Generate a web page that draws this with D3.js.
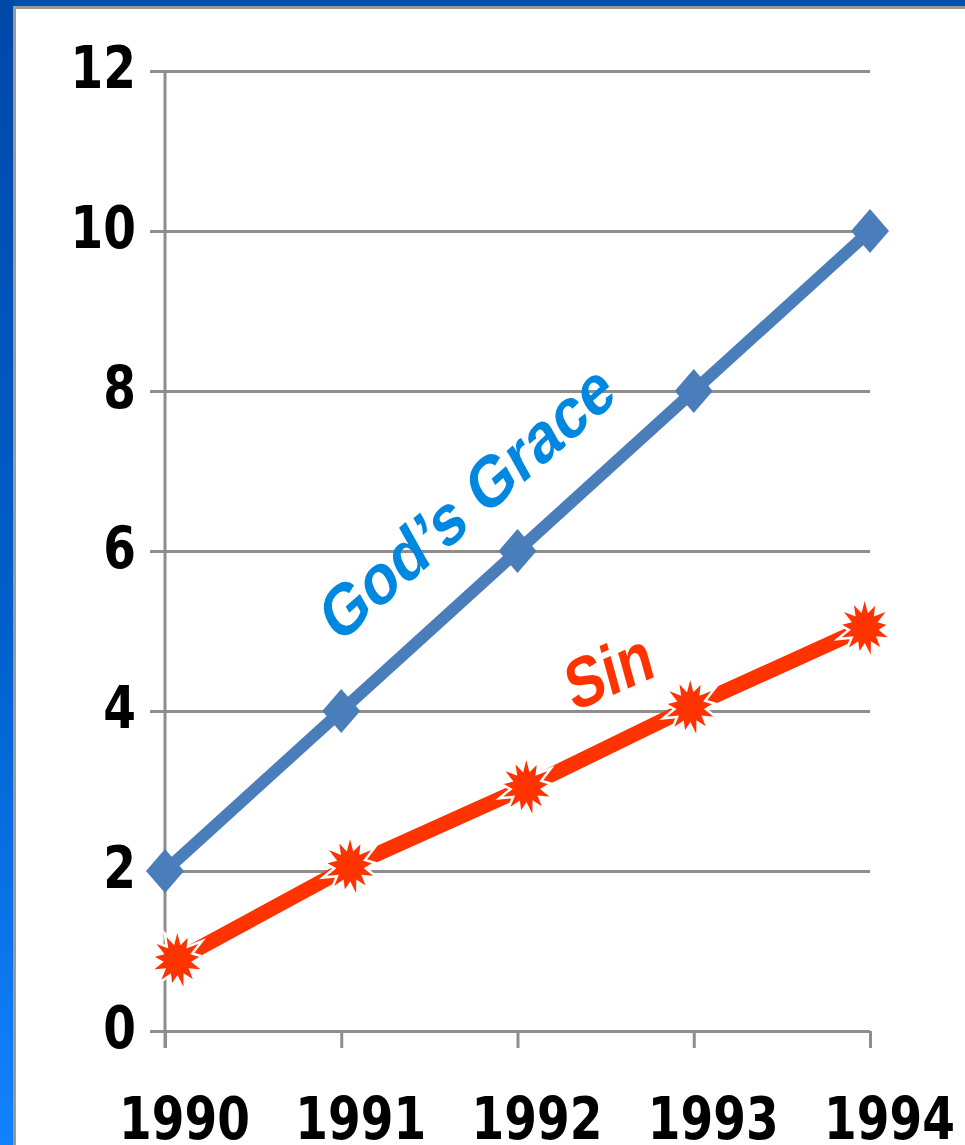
<!DOCTYPE html>
<html>
<head>
<meta charset="utf-8">
<script src="https://cdn.jsdelivr.net/npm/d3@7"></script>
<style>
  html, body { margin: 0; padding: 0; background: #fff; }
  svg { display: block; }
</style>
</head>
<body>
<svg id="chart" width="965" height="1145"></svg>
<script>
'use strict';

// data
var years = [1990, 1991, 1992, 1993, 1994];
var yTicks = [0, 2, 4, 6, 8, 10, 12];
var graceValues = [2, 4, 6, 8, 10];
var sinYears = [1990.07, 1991.05, 1992.05, 1992.98, 1993.97];
var sinValues = [0.89, 2.06, 3.05, 4.05, 5.04];

var svg = d3.select('#chart');
var W = 965, H = 1145;
var stretch = 1.25; // the source picture is squashed taller than wide

// slide background: blue strips on top and left
var defs = svg.append('defs');
var grad = defs.append('linearGradient')
    .attr('id', 'sideGrad')
    .attr('x1', 0).attr('y1', 0).attr('x2', 0).attr('y2', 1);
grad.append('stop').attr('offset', '0%').attr('stop-color', '#0048a8');
grad.append('stop').attr('offset', '55%').attr('stop-color', '#0060cc');
grad.append('stop').attr('offset', '100%').attr('stop-color', '#1482ff');

svg.append('rect').attr('x', 0).attr('y', 0).attr('width', W).attr('height', 6).attr('fill', '#0050b0');
svg.append('rect').attr('x', 0).attr('y', 0).attr('width', 14).attr('height', H).attr('fill', 'url(#sideGrad)');
svg.append('rect').attr('x', 14).attr('y', 6).attr('width', W).attr('height', 3).attr('fill', '#9a9a9a');
svg.append('rect').attr('x', 13).attr('y', 6).attr('width', 3).attr('height', H).attr('fill', '#9a9a9a');
// leftover letter from the slide behind
svg.append('text')
    .attr('x', -22).attr('y', 1020)
    .attr('font-family', 'DejaVu Sans')
    .attr('font-weight', 'bold')
    .attr('font-size', 34)
    .attr('fill', '#000')
    .text('s');

var x = d3.scaleLinear().domain([1990, 1994]).range([165, 870]);
var y = d3.scaleLinear().domain([0, 12]).range([1031, 71]);

var gridColor = '#8e8e8e';

// gridlines + y axis
var yAxis = d3.axisLeft(y)
    .tickValues(yTicks)
    .tickSize(15)
    .tickPadding(14)
    .tickFormat(d3.format('d'));

var gy = svg.append('g').attr('transform', 'translate(165,0)').call(yAxis);
gy.select('.domain').remove();
gy.selectAll('.tick line').attr('stroke', gridColor).attr('stroke-width', 3);
gy.selectAll('.tick').append('line')
    .attr('x1', 0).attr('x2', x(1994) - x(1990))
    .attr('stroke', gridColor).attr('stroke-width', 3);
gy.selectAll('.tick text')
    .attr('font-family', 'DejaVu Sans')
    .attr('font-weight', 'bold')
    .attr('font-size', 47)
    .attr('fill', '#000')
    .attr('dy', null)
    .attr('dominant-baseline', 'central')
    .attr('transform', 'translate(0,-3) scale(1,' + stretch + ')');

// vertical axis line
svg.append('line')
    .attr('x1', x(1990)).attr('x2', x(1990))
    .attr('y1', y(12)).attr('y2', y(0) + 17)
    .attr('stroke', gridColor).attr('stroke-width', 3);

// x axis ticks and labels
var xAxis = d3.axisBottom(x)
    .tickValues(years)
    .tickSize(17)
    .tickPadding(0)
    .tickFormat(d3.format('d'));
var gx = svg.append('g').attr('transform', 'translate(0,' + y(0) + ')').call(xAxis);
gx.select('.domain').remove();
gx.selectAll('.tick line').attr('stroke', gridColor).attr('stroke-width', 3);
gx.selectAll('.tick text')
    .attr('font-family', 'DejaVu Sans')
    .attr('font-weight', 'bold')
    .attr('font-size', 47)
    .attr('fill', '#000')
    .attr('dy', null)
    .attr('y', 0)
    .attr('dominant-baseline', 'alphabetic')
    .attr('transform', 'translate(19,108) scale(1,' + stretch + ')');

// God's Grace series
var grace = years.map(function(d, i) { return { x: d, v: graceValues[i] }; });
var line = d3.line()
    .x(function(d) { return x(d.x); })
    .y(function(d) { return y(d.v); });

svg.append('path')
    .datum(grace)
    .attr('d', line)
    .attr('fill', 'none')
    .attr('stroke', '#4a7ebb')
    .attr('stroke-width', 12);

svg.selectAll('.diamond')
    .data(grace)
    .enter().append('path')
    .attr('class', 'diamond')
    .attr('d', 'M0,-22 L19,0 L0,22 L-19,0 Z')
    .attr('transform', function(d) { return 'translate(' + x(d.x) + ',' + y(d.v) + ')'; })
    .attr('fill', '#4a7ebb');

// Sin series
var sin = sinYears.map(function(d, i) { return { x: d, v: sinValues[i] }; });
svg.append('path')
    .datum(sin)
    .attr('d', line)
    .attr('fill', 'none')
    .attr('stroke', '#ff3300')
    .attr('stroke-width', 15);

// explosion marker
var burstR = [29, 26, 30, 25, 29, 27, 30, 25, 28, 29, 26, 30, 27];
var burstPts = [];
burstR.forEach(function(r, i) {
    var a0 = (i / burstR.length) * 2 * Math.PI - Math.PI / 2;
    var a1 = a0 + Math.PI / burstR.length;
    burstPts.push([Math.cos(a0) * r, Math.sin(a0) * r * 1.1]);
    burstPts.push([Math.cos(a1) * 16, Math.sin(a1) * 16 * 1.1]);
});
var burstPath = d3.line()(burstPts) + 'Z';

svg.selectAll('.burst')
    .data(sin)
    .enter().append('path')
    .attr('class', 'burst')
    .attr('d', burstPath)
    .attr('transform', function(d) { return 'translate(' + x(d.x) + ',' + y(d.v) + ')'; })
    .attr('fill', '#ff3300')
    .attr('stroke', '#fff')
    .attr('stroke-width', 2.5)
    .attr('stroke-linejoin', 'miter');

// series labels on the lines
svg.append('text')
    .attr('transform', 'translate(467,502) scale(1,' + stretch + ') rotate(-35)')
    .attr('text-anchor', 'middle')
    .attr('dominant-baseline', 'central')
    .attr('font-family', 'Liberation Sans')
    .attr('font-weight', 'bold')
    .attr('font-size', 58)
    .attr('fill', '#0088e0')
    .text('God\u2019s Grace');

svg.append('text')
    .attr('transform', 'translate(609,671) scale(1,' + stretch + ') rotate(-19)')
    .attr('text-anchor', 'middle')
    .attr('dominant-baseline', 'central')
    .attr('font-family', 'Liberation Sans')
    .attr('font-weight', 'bold')
    .attr('font-size', 57)
    .attr('fill', '#ff3300')
    .text('Sin');
</script>
</body>
</html>
